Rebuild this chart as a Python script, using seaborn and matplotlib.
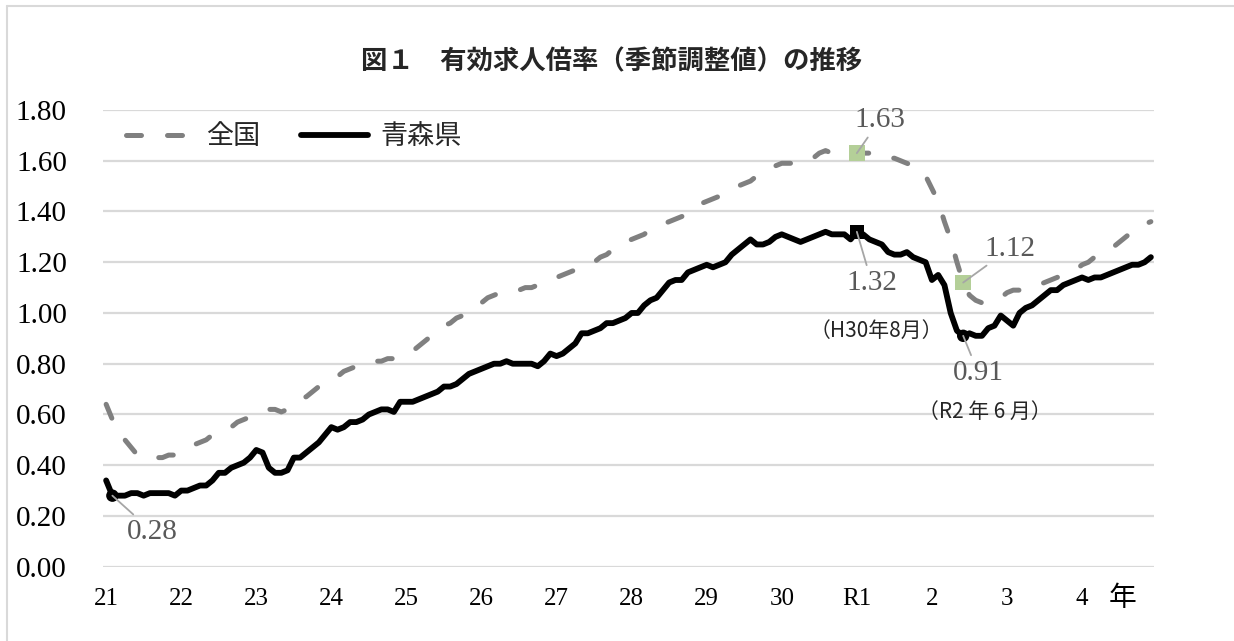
import numpy as np
import pandas as pd
import matplotlib
matplotlib.use('Agg')
import matplotlib.pyplot as plt
import seaborn as sns
from matplotlib.lines import Line2D

# monthly values, H21.1 - R4.12 (seasonally adjusted)
zenkoku = [
    0.64, 0.58, 0.53, 0.50, 0.47, 0.44, 0.43, 0.43, 0.43, 0.43, 0.44, 0.44,  # H21
    0.45, 0.46, 0.48, 0.49, 0.50, 0.52, 0.53, 0.54, 0.55, 0.57, 0.58, 0.59,  # H22
    0.60, 0.61, 0.62, 0.62, 0.61, 0.62, 0.64, 0.66, 0.67, 0.69, 0.71, 0.72,  # H23
    0.74, 0.75, 0.77, 0.78, 0.79, 0.80, 0.80, 0.81, 0.81, 0.82, 0.82, 0.83,  # H24
    0.84, 0.85, 0.87, 0.89, 0.91, 0.93, 0.95, 0.96, 0.98, 0.99, 1.01, 1.03,  # H25
    1.04, 1.06, 1.07, 1.08, 1.09, 1.09, 1.09, 1.10, 1.10, 1.11, 1.12, 1.13,  # H26
    1.14, 1.15, 1.16, 1.17, 1.18, 1.19, 1.20, 1.22, 1.23, 1.25, 1.26, 1.28,  # H27
    1.29, 1.30, 1.31, 1.33, 1.34, 1.35, 1.36, 1.37, 1.38, 1.39, 1.41, 1.43,  # H28
    1.44, 1.45, 1.46, 1.48, 1.49, 1.50, 1.51, 1.52, 1.54, 1.55, 1.56, 1.58,  # H29
    1.59, 1.59, 1.59, 1.59, 1.60, 1.61, 1.63, 1.64, 1.63, 1.63, 1.63, 1.63,  # H30
    1.63, 1.63, 1.63, 1.62, 1.62, 1.61, 1.61, 1.60, 1.59, 1.58, 1.57, 1.54,  # R1
    1.49, 1.44, 1.36, 1.29, 1.20, 1.12, 1.07, 1.05, 1.04, 1.04, 1.05, 1.06,  # R2
    1.08, 1.09, 1.09, 1.10, 1.10, 1.11, 1.12, 1.13, 1.14, 1.15, 1.16, 1.17,  # R3
    1.19, 1.20, 1.22, 1.23, 1.24, 1.26, 1.28, 1.30, 1.32, 1.34, 1.35, 1.36,  # R4
]
aomori = [
    0.34, 0.28, 0.28, 0.28, 0.29, 0.29, 0.28, 0.29, 0.29, 0.29, 0.29, 0.28,
    0.30, 0.30, 0.31, 0.32, 0.32, 0.34, 0.37, 0.37, 0.39, 0.40, 0.41, 0.43,
    0.46, 0.45, 0.39, 0.37, 0.37, 0.38, 0.43, 0.43, 0.45, 0.47, 0.49, 0.52,
    0.55, 0.54, 0.55, 0.57, 0.57, 0.58, 0.60, 0.61, 0.62, 0.62, 0.61, 0.65,
    0.65, 0.65, 0.66, 0.67, 0.68, 0.69, 0.71, 0.71, 0.72, 0.74, 0.76, 0.77,
    0.78, 0.79, 0.80, 0.80, 0.81, 0.80, 0.80, 0.80, 0.80, 0.79, 0.81, 0.84,
    0.83, 0.84, 0.86, 0.88, 0.92, 0.92, 0.93, 0.94, 0.96, 0.96, 0.97, 0.98,
    1.00, 1.00, 1.03, 1.05, 1.06, 1.09, 1.12, 1.13, 1.13, 1.16, 1.17, 1.18,
    1.19, 1.18, 1.19, 1.20, 1.23, 1.25, 1.27, 1.29, 1.27, 1.27, 1.28, 1.30,
    1.31, 1.30, 1.29, 1.28, 1.29, 1.30, 1.31, 1.32, 1.31, 1.31, 1.31, 1.29,
    1.32, 1.31, 1.29, 1.28, 1.27, 1.24, 1.23, 1.23, 1.24, 1.22, 1.21, 1.20,
    1.13, 1.15, 1.11, 1.00, 0.93, 0.91, 0.92, 0.91, 0.91, 0.94, 0.95, 0.99,
    0.97, 0.95, 1.00, 1.02, 1.03, 1.05, 1.07, 1.09, 1.09, 1.11, 1.12, 1.13,
    1.14, 1.13, 1.14, 1.14, 1.15, 1.16, 1.17, 1.18, 1.19, 1.19, 1.20, 1.22,
]
year_labels = ['21', '22', '23', '24', '25', '26', '27', '28', '29', '30',
               'R1', '2', '3', '4']

# highlighted points (month index from H21.1)
zen_mark_idx = [120, 137]
zen_mark_val = [1.63, 1.12]
ao_max_idx = [120]
ao_max_val = [1.32]
ao_min_idx = [1, 137]
ao_min_val = [0.28, 0.91]

df = pd.DataFrame({'month': np.arange(len(zenkoku)), '全国': zenkoku, '青森県': aomori})

sns.set_theme(style='white')
plt.rcParams['font.family'] = ['Liberation Serif', 'Noto Sans CJK JP']
JP = ['Noto Sans CJK JP', 'DejaVu Sans']

fig = plt.figure(figsize=(12.34, 6.41), dpi=100)
ax = fig.add_axes([103 / 1234, 1 - 566.7 / 641, 1051 / 1234, 456.7 / 641])

sns.lineplot(data=df, x='month', y='全国', ax=ax, color='#808080', lw=3.6, label='全国')
sns.lineplot(data=df, x='month', y='青森県', ax=ax, color='black', lw=4.2, label='青森県')
l_zen, l_ao = ax.lines[0], ax.lines[1]
l_zen.set_dashes([3, 5.2])
l_zen.set_dash_capstyle('round')
l_ao.set_solid_joinstyle('round')

# markers
sns.scatterplot(x=zen_mark_idx, y=zen_mark_val, marker='s', s=125, color='#b4cf98',
                edgecolor='none', ax=ax, zorder=5, legend=False)
sns.scatterplot(x=ao_max_idx, y=ao_max_val, marker='s', s=110, color='black',
                edgecolor='none', ax=ax, zorder=5, legend=False)
sns.scatterplot(x=ao_min_idx, y=ao_min_val, marker='o', s=80, color='black',
                edgecolor='none', ax=ax, zorder=5, legend=False)

lab_color = '#595959'
arrow = dict(arrowstyle='-', color='#a6a6a6', lw=1.3, shrinkA=1, shrinkB=0)


def note(x, y, dx, dy):
    ax.annotate(f'{y:.2f}', xy=(x, y), xytext=(dx, dy), textcoords='offset points',
                ha='center', va='center', fontsize=21, color=lab_color,
                arrowprops=arrow, zorder=6)


note(zen_mark_idx[0], zen_mark_val[0], 16.6, 23.8)
note(zen_mark_idx[1], zen_mark_val[1], 33.8, 24.5)
note(ao_max_idx[0], ao_max_val[0], 10.8, -36.7)
note(ao_min_idx[0], ao_min_val[0], 28.8, -25.9)
note(ao_min_idx[1], ao_min_val[1], 10.8, -26.6)

ax.annotate('（H30年8月）', xy=(ao_max_idx[0], ao_max_val[0]), xytext=(13.7, -71.3),
            textcoords='offset points', ha='center', va='center', fontsize=15,
            color='#262626', family=JP)
ax.annotate('（R2 年 6 月）', xy=(ao_min_idx[1], ao_min_val[1]), xytext=(15.8, -54.7),
            textcoords='offset points', ha='center', va='center', fontsize=15,
            color='#262626', family=JP)

# axes
ax.set_xlim(-0.5, len(zenkoku) - 0.5)
ax.set_ylim(0, 1.8)
yt = np.arange(0, 1.81, 0.2)
ax.set_yticks(yt)
ax.set_yticklabels([f'{v:.2f}' for v in yt], fontsize=21, color='black')
ax.set_xticks(np.arange(0, len(zenkoku), 12))
ax.set_xticklabels(year_labels, fontsize=18, color='black')
ax.tick_params(axis='y', length=0, pad=26)
ax.tick_params(axis='x', length=0, pad=15)
ax.yaxis.grid(True, color='#d9d9d9', lw=1.6)
ax.xaxis.grid(False)
ax.set_axisbelow(True)
for s in ax.spines.values():
    s.set_visible(False)
ax.set_xlabel('')
ax.set_ylabel('')

fig.text(1123 / 1234, 1 - 598 / 641, '年', ha='center', va='center', fontsize=20,
         family=JP, color='black')

ax.legend(loc='center left', bbox_to_anchor=(126 / 1234, 1 - 137 / 641),
          bbox_transform=fig.transFigure, ncol=2, frameon=False, borderpad=0,
          borderaxespad=0, handlelength=2.5, handletextpad=0.45, columnspacing=1.5,
          prop={'family': JP, 'size': 19.5})

fig.text(612 / 1234, 1 - 62 / 641, '図１　有効求人倍率（季節調整値）の推移',
         ha='center', va='center', fontsize=19, fontweight='bold', family=JP,
         color='#262626')

# chart frame (left and top edges visible)
fig.add_artist(Line2D([7 / 1234, 7 / 1234], [0, 1 - 6 / 641], transform=fig.transFigure,
                      color='#d9d9d9', lw=1.5))
fig.add_artist(Line2D([7 / 1234, 1], [1 - 6 / 641, 1 - 6 / 641], transform=fig.transFigure,
                      color='#d9d9d9', lw=1.5))

fig.savefig('out.png', dpi=100)
